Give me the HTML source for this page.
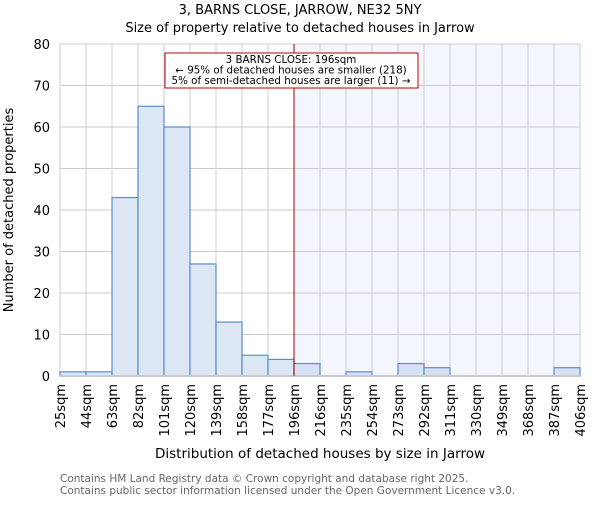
<!DOCTYPE html>
<html><head><meta charset="utf-8"><style>body{margin:0;background:#fff}svg{font-family:"DejaVu Sans","Liberation Sans",sans-serif}</style></head>
<body>
<svg width="600" height="500" viewBox="0 0 600 500">
<text x="300" y="14" text-anchor="middle" font-size="13">3, BARNS CLOSE, JARROW, NE32 5NY</text>
<text x="300" y="32" text-anchor="middle" font-size="13">Size of property relative to detached houses in Jarrow</text>
<g id="plot"></g>
<text x="320" y="458" text-anchor="middle" font-size="13.5">Distribution of detached houses by size in Jarrow</text>
<text transform="translate(13,210) rotate(-90)" text-anchor="middle" font-size="13">Number of detached properties</text>
<text x="60" y="482" font-size="10.5" fill="#666">Contains HM Land Registry data © Crown copyright and database right 2025.</text>
<text x="60" y="494" font-size="10.5" fill="#666">Contains public sector information licensed under the Open Government Licence v3.0.</text>
</svg>
<script>
const categories=["25sqm","44sqm","63sqm","82sqm","101sqm","120sqm","139sqm","158sqm","177sqm","196sqm","216sqm","235sqm","254sqm","273sqm","292sqm","311sqm","330sqm","349sqm","368sqm","387sqm","406sqm"];
const counts=[1,1,43,65,60,27,13,5,4,3,0,1,0,3,2,0,0,0,0,2];
const yTicks=[0,10,20,30,40,50,60,70,80];
const markerIndex=9;
const NS="http://www.w3.org/2000/svg";
const g=document.getElementById("plot");
const L=60,R=580,T=44,B=376,yMax=80;
const bw=(R-L)/counts.length;
const x=i=>L+i*bw;
const y=v=>B-v/yMax*(B-T);
function mk(t,a){const e=document.createElementNS(NS,t);for(const k in a)e.setAttribute(k,a[k]);g.appendChild(e);return e;}
let e=mk("rect",{x:x(markerIndex),y:T,width:R-x(markerIndex),height:B-T,fill:"#f3f6fd"});


for(let i=0;i<=counts.length;i++){e=mk("line",{x1:x(i),x2:x(i),y1:T,y2:B,stroke:"#ccc"});

}
yTicks.forEach(v=>{e=mk("line",{x1:L,x2:R,y1:y(v),y2:y(v),stroke:"#ccc"});


e=mk("text",{x:L-10,y:y(v)+5,"text-anchor":"end","font-size":"13"});e.textContent=v;

});
counts.forEach((c,i)=>{if(c<=0)return;e=mk("rect",{x:x(i),y:y(c),width:bw,height:B-y(c),fill:i<markerIndex?"#dce6f4":"#d6e1f3",stroke:"#5b8bd0","stroke-width":"1.2"});

});
e=mk("line",{x1:L,x2:R,y1:B,y2:B,stroke:"#ccc","stroke-width":"2"});


categories.forEach((c,i)=>{e=mk("text",{transform:`translate(${x(i)+5},384) rotate(-90)`,"text-anchor":"end","font-size":"13"});e.textContent=c;

});
e=mk("line",{x1:x(markerIndex),x2:x(markerIndex),y1:T,y2:B,stroke:"#a00000","stroke-width":"1"});


e=mk("rect",{x:165,y:53,width:253,height:35,fill:"#fff",stroke:"#c00000"});


["3 BARNS CLOSE: 196sqm","← 95% of detached houses are smaller (218)","5% of semi-detached houses are larger (11) →"].forEach((t,i)=>{e=mk("text",{x:291,y:63+i*10.5,"text-anchor":"middle","font-size":"10.3"});e.textContent=t;

});
</script>
</body></html>
